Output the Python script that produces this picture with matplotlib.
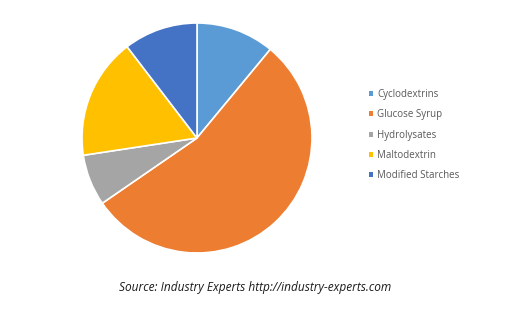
import matplotlib.pyplot as plt

# shares (percent)
labels = ['Cyclodextrins', 'Glucose Syrup', 'Hydrolysates', 'Maltodextrin', 'Modified Starches']
shares = [11.0, 54.4, 7.2, 17.0, 10.4]
colors = ['#5B9BD5', '#ED7D31', '#A5A5A5', '#FFC000', '#4472C4']
source = 'Source: Industry Experts http://industry-experts.com'

W, H = 522, 318
fig = plt.figure(figsize=(W / 100, H / 100), dpi=100)
fig.patch.set_facecolor('white')

# pie centred at (197, 138) px, radius ~115 px
cx, cy, r = 197, 138, 115
ax = fig.add_axes([(cx - r) / W, (H - cy - r) / H, 2 * r / W, 2 * r / H])
wedges, _ = ax.pie(shares, colors=colors, startangle=90, counterclock=False,
                   wedgeprops=dict(edgecolor='white', linewidth=1.2))
ax.set_xlim(-1, 1)
ax.set_ylim(-1, 1)
ax.set_aspect('equal')

leg = fig.legend(wedges, labels, loc='upper left',
                 bbox_to_anchor=(364 / W, 1 - 84 / H),
                 frameon=False, borderpad=0, handlelength=0.42, handleheight=0.42,
                 handletextpad=0.45, labelspacing=0.96,
                 prop=dict(family='Open Sans', size=7))
for t in leg.get_texts():
    t.set_color('#595959')
for h in leg.legend_handles:
    h.set_edgecolor('none')

fig.text(255 / W, 1 - 287 / H, source, ha='center', va='center',
         fontsize=8.6, style='italic', family='Open Sans', color='#1a1a1a')

fig.savefig('out.png', dpi=100)
